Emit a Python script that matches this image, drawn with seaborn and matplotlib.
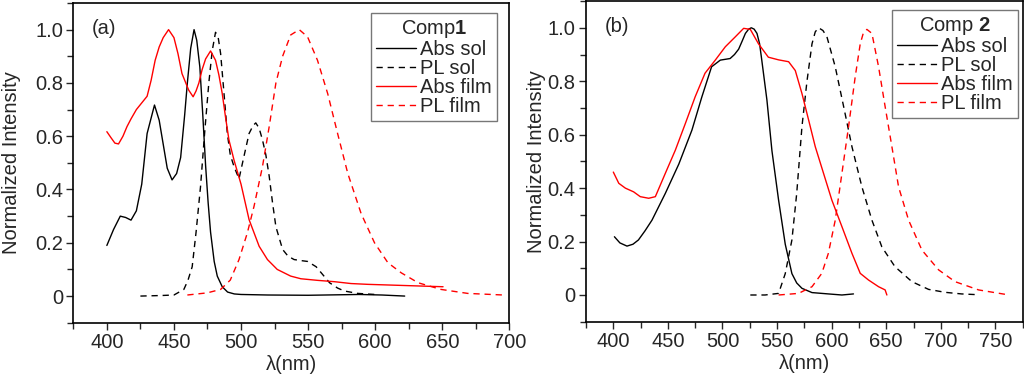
import numpy as np
import pandas as pd
import matplotlib
matplotlib.use("Agg")
import matplotlib.pyplot as plt
import seaborn as sns

sns.set_style("ticks")
plt.rcParams['font.family'] = ['Liberation Sans', 'DejaVu Sans']
plt.rcParams['mathtext.fontset'] = 'custom'
plt.rcParams['mathtext.rm'] = 'Liberation Sans'
plt.rcParams['mathtext.bf'] = 'Liberation Sans:bold'

# ---- Comp 1 (panel a) ----
a_abs_sol_x = [400, 405, 410, 414, 418, 422, 426, 430, 435.5, 439, 442, 445, 448.6, 452, 455, 458, 460, 462.5,
               465, 467, 469.3, 471.5, 473.6, 475.5, 477.3, 480, 482.3, 486, 490, 495, 500, 520, 550, 588, 605, 622]
a_abs_sol_y = [0.19, 0.25, 0.30, 0.295, 0.285, 0.32, 0.42, 0.61, 0.717, 0.66, 0.57, 0.48, 0.436, 0.46, 0.52,
               0.68, 0.80, 0.93, 1.0, 0.96, 0.86, 0.68, 0.49, 0.35, 0.24, 0.13, 0.075, 0.035, 0.015, 0.008,
               0.006, 0.004, 0.003, 0.006, 0.004, 0.0]
a_pl_sol_x = [425, 440, 450, 457.4, 460.5, 463.6, 466.5, 469.8, 473, 476, 478.5, 481, 483, 484.8, 487, 489.8,
              492, 494.8, 498.5, 502, 506, 509, 511, 513.5, 516, 518.5, 521, 523.5, 526, 531, 535, 539.6,
              545, 549.6, 556, 561, 566, 572, 577, 587, 600]
a_pl_sol_y = [0.0, 0.002, 0.004, 0.025, 0.06, 0.11, 0.24, 0.41, 0.62, 0.80, 0.92, 0.99, 0.97, 0.91, 0.78, 0.61,
              0.53, 0.486, 0.44, 0.52, 0.61, 0.64, 0.65, 0.63, 0.586, 0.53, 0.45, 0.35, 0.26, 0.175, 0.15,
              0.137, 0.133, 0.13, 0.11, 0.08, 0.05, 0.03, 0.019, 0.01, 0.006]
a_abs_film_x = [400, 403, 406, 408.7, 412, 415, 418, 422, 426, 430, 433, 436, 439, 442, 446, 450, 453, 456, 461,
                464.3, 466.5, 468.6, 471, 473.6, 477.3, 481, 483.5, 486, 488.5, 491, 494.8, 500, 506, 513.5,
                519.7, 527, 537, 544.6, 557, 569.6, 582, 594.5, 619.5, 650.6]
a_abs_film_y = [0.617, 0.595, 0.574, 0.571, 0.60, 0.636, 0.665, 0.70, 0.725, 0.75, 0.81, 0.885, 0.935, 0.97,
                1.0, 0.97, 0.91, 0.835, 0.773, 0.748, 0.77, 0.80, 0.85, 0.89, 0.92, 0.885, 0.83, 0.76, 0.67,
                0.586, 0.51, 0.42, 0.287, 0.187, 0.137, 0.10, 0.075, 0.065, 0.059, 0.054, 0.047, 0.044, 0.04,
                0.035]
a_pl_film_x = [460, 474.8, 484.8, 492, 498.5, 504.7, 509.7, 516, 521, 526, 531, 537, 543.4, 549.6, 557, 564.6,
               572, 579.6, 589.5, 599.5, 609.5, 619.5, 632, 649, 669, 695.5]
a_pl_film_y = [0.004, 0.012, 0.025, 0.06, 0.137, 0.237, 0.337, 0.486, 0.636, 0.80, 0.90, 0.98, 1.0, 0.973,
               0.885, 0.76, 0.61, 0.46, 0.31, 0.20, 0.125, 0.087, 0.05, 0.025, 0.01, 0.004]

# ---- Comp 2 (panel b) ----
b_abs_sol_x = [401, 406, 412.5, 418, 423, 429, 435.4, 447.6, 460, 472, 481, 490, 498, 507, 511, 514.8, 518,
               521, 524, 526.4, 529, 531.6, 534, 536, 540.7, 545.3, 551.4, 557.5, 563.6, 568, 572.8, 582,
               597, 609.4, 620]
b_abs_sol_y = [0.218, 0.195, 0.183, 0.19, 0.206, 0.24, 0.28, 0.38, 0.49, 0.617, 0.74, 0.854, 0.879, 0.885,
               0.90, 0.92, 0.95, 0.979, 0.995, 1.0, 0.995, 0.979, 0.94, 0.879, 0.73, 0.54, 0.355, 0.19, 0.08,
               0.045, 0.025, 0.009, 0.004, 0.0, 0.004]
b_pl_sol_x = [525.5, 539, 551.4, 557.5, 563.6, 568, 572.8, 577.4, 582, 585, 588, 592, 595.7, 603.3, 611,
              618.6, 627.7, 636.9, 646, 658, 673.5, 688.8, 704, 719, 734.6]
b_pl_sol_y = [0.0, 0.0, 0.006, 0.08, 0.206, 0.38, 0.63, 0.80, 0.94, 0.985, 1.0, 0.99, 0.966, 0.854, 0.705,
              0.555, 0.405, 0.28, 0.18, 0.106, 0.05, 0.021, 0.01, 0.004, 0.001]
b_abs_film_x = [400, 405, 411, 418.6, 424.7, 432.4, 438.5, 447.6, 456.8, 466, 475, 484, 493.4, 502.6, 511.7,
                519.4, 525.5, 533, 542, 551.4, 560.6, 566.7, 572.8, 578.9, 585, 592.6, 600.2, 609.4, 618.6,
                626.2, 633.8, 643, 649, 650.6]
b_abs_film_y = [0.46, 0.418, 0.40, 0.386, 0.368, 0.362, 0.368, 0.455, 0.542, 0.642, 0.742, 0.83, 0.879,
                0.929, 0.966, 0.998, 0.994, 0.94, 0.89, 0.88, 0.873, 0.84, 0.754, 0.655, 0.555, 0.455, 0.355,
                0.256, 0.156, 0.081, 0.056, 0.031, 0.019, 0.0]
b_pl_film_x = [551.4, 569.7, 582, 591, 597, 603.3, 609.4, 615.5, 621.6, 626.2, 629, 632.3, 636.9, 643, 649,
               655.2, 661.3, 670.5, 682.7, 698, 713, 734.6, 759]
b_pl_film_y = [0.0, 0.006, 0.031, 0.081, 0.156, 0.28, 0.455, 0.63, 0.817, 0.94, 0.98, 0.994, 0.979, 0.854,
               0.705, 0.555, 0.405, 0.28, 0.168, 0.094, 0.05, 0.019, 0.0025]

series_labels = ['Abs sol', 'PL sol', 'Abs film', 'PL film']
y_ticks = [0, 0.2, 0.4, 0.6, 0.8, 1.0]
y_tick_labels = ['0', '0.2', '0.4', '0.6', '0.8', '1.0']

fs = 14.5
dash = (4.5, 3.5)

fig = plt.figure(figsize=(10.24, 3.84), dpi=100)
ax1 = fig.add_axes([0.0716, 0.1596, 0.4258, 0.8326])
ax2 = fig.add_axes([0.5723, 0.1622, 0.4264, 0.835])


def draw_panel(ax, data, title, xlim, xticks, tag, legend_anchor, ylabelpad):
    styles = [('black', ''), ('black', dash), ('red', ''), ('red', dash)]
    for (x, y), lab, (col, ds) in zip(data, series_labels, styles):
        df = pd.DataFrame({'x': x, 'y': y})
        sns.lineplot(data=df, x='x', y='y', ax=ax, color=col, lw=1.0, estimator=None, sort=False, label=lab)
        if ds:
            ax.lines[-1].set_dashes(ds)
    ax.set_xlim(*xlim)
    ax.set_ylim(-0.1, 1.1)
    ax.set_xticks(xticks)
    ax.set_xticks(np.arange(xticks[0] - 25, xlim[1] + 1, 25), minor=True)
    ax.set_yticks(y_ticks)
    ax.set_yticklabels(y_tick_labels)
    ax.set_yticks(np.arange(-0.1, 1.11, 0.1), minor=True)
    ax.tick_params(which='major', direction='out', length=5, width=1, labelsize=fs, pad=2.5, top=False, right=False)
    ax.tick_params(which='minor', direction='out', length=4, width=1, top=False, right=False)
    for s in ax.spines.values():
        s.set_visible(True)
        s.set_linewidth(1.2)
        s.set_color('black')
    ax.set_xlabel('λ(nm)', fontsize=fs, labelpad=2)
    ax.set_ylabel('Normalized Intensity', fontsize=fs, labelpad=ylabelpad)
    ax.text(0.043, 0.92, tag, transform=ax.transAxes, fontsize=fs, va='center', ha='left')
    leg = ax.legend(title=title, loc='upper right', bbox_to_anchor=legend_anchor, borderaxespad=0,
                    fontsize=fs, title_fontsize=fs, frameon=True, fancybox=False, labelspacing=0.0,
                    handlelength=2.0, handletextpad=0.2, borderpad=0.25)
    leg.get_frame().set_edgecolor('#555555')
    leg.get_frame().set_linewidth(1.0)


draw_panel(ax1, [(a_abs_sol_x, a_abs_sol_y), (a_pl_sol_x, a_pl_sol_y),
                 (a_abs_film_x, a_abs_film_y), (a_pl_film_x, a_pl_film_y)],
           'Comp$\\mathbf{1}$', (375, 700), [400, 450, 500, 550, 600, 650, 700], '(a)', (0.972, 0.969), 10)
draw_panel(ax2, [(b_abs_sol_x, b_abs_sol_y), (b_pl_sol_x, b_pl_sol_y),
                 (b_abs_film_x, b_abs_film_y), (b_pl_film_x, b_pl_film_y)],
           'Comp $\\mathbf{2}$', (375, 775), [400, 450, 500, 550, 600, 650, 700, 750], '(b)', (0.989, 0.972), 1)

fig.savefig('out.png', dpi=100)
